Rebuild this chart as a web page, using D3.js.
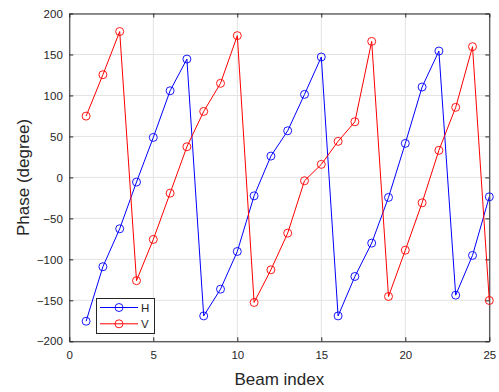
<!DOCTYPE html>
<html><head><meta charset="utf-8">
<script src="https://cdn.jsdelivr.net/npm/d3@7/dist/d3.min.js"></script>
<style>body{margin:0;background:#fff}svg{display:block}text{font-family:"Liberation Sans",Arial,sans-serif}</style>
</head><body>
<script>
const beamIndex = d3.range(1, 26);
const phaseH = [-175.5,-109,-62.7,-5.7,48.8,105.7,144.4,-169,-136.4,-90.4,-22.5,26,56.9,101.3,146.9,-169,-120.9,-80.2,-24.4,41.5,110.3,154.2,-143.7,-95.2,-23.7];
const phaseV = [74.8,125.3,178,-126,-75.7,-19.2,37.4,80.5,114.8,173,-152.6,-112.8,-68,-4.1,15.9,44,67.9,166,-145.3,-88.8,-31,33,85.5,159.5,-150.2];
const xTicks = [0,5,10,15,20,25];
const yTicks = [-200,-150,-100,-50,0,50,100,150,200];
const seriesNames = ["H","V"];
const colors = ["#0000ff","#ff0000"];

const W=499,H=392, L=69.3, R=489.3, T=13.5, B=341.3;
const svg=d3.select("body").append("svg").attr("width",W).attr("height",H);
const x=d3.scaleLinear().domain([0,25]).range([L,R]);
const y=d3.scaleLinear().domain([-200,200]).range([B,T]);

// grid
svg.append("g").selectAll("line").data(xTicks).join("line")
 .attr("x1",d=>x(d)).attr("x2",d=>x(d)).attr("y1",T).attr("y2",B)
 .attr("stroke","#e3e3e3").attr("stroke-width",1);
svg.append("g").selectAll("line").data(yTicks).join("line")
 .attr("y1",d=>y(d)).attr("y2",d=>y(d)).attr("x1",L).attr("x2",R)
 .attr("stroke","#e3e3e3").attr("stroke-width",1);

const axCol="#262626";
function styleAxis(g){g.select(".domain").attr("stroke",axCol);g.selectAll(".tick line").attr("stroke",axCol);g.selectAll("text").attr("fill","#262626").style("font-size","11.5px");}
svg.append("g").attr("transform",`translate(0,${B})`).call(d3.axisBottom(x).tickValues(xTicks).tickSizeInner(-4).tickSizeOuter(0).tickPadding(10)).call(styleAxis);
svg.append("g").attr("transform",`translate(${L},0)`).call(d3.axisLeft(y).tickValues(yTicks).tickSizeInner(-4).tickSizeOuter(0).tickPadding(6.5)).call(styleAxis);
svg.append("g").attr("transform",`translate(0,${T})`).call(d3.axisTop(x).tickValues(xTicks).tickSizeInner(-4).tickSizeOuter(0).tickFormat("")).call(styleAxis);
svg.append("g").attr("transform",`translate(${R},0)`).call(d3.axisRight(y).tickValues(yTicks).tickSizeInner(-4).tickSizeOuter(0).tickFormat("")).call(styleAxis);

const series=[phaseH,phaseV];
const line=d3.line().x((d,i)=>x(beamIndex[i])).y(d=>y(d));
series.forEach((s,k)=>{
  svg.append("path").datum(s).attr("d",line).attr("fill","none").attr("stroke",colors[k]).attr("stroke-width",1);
  svg.append("g").selectAll("circle").data(s).join("circle")
   .attr("cx",(d,i)=>x(beamIndex[i])).attr("cy",d=>y(d)).attr("r",4)
   .attr("fill","none").attr("stroke",colors[k]).attr("stroke-width",0.9);
});

// labels
svg.append("text").attr("x",(L+R)/2).attr("y",385).attr("text-anchor","middle").style("font-size","17px").attr("fill","#262626").text("Beam index");
svg.append("text").attr("transform",`translate(29,${(T+B)/2}) rotate(-90)`).attr("text-anchor","middle").style("font-size","17px").attr("fill","#262626").text("Phase (degree)");

// legend
const lg=svg.append("g");
lg.append("rect").attr("x",96.5).attr("y",298.5).attr("width",58).attr("height",35).attr("fill","#fff").attr("stroke",axCol).attr("stroke-width",1);
seriesNames.forEach((n,k)=>{
  const yy=307.5+k*16.3;
  lg.append("line").attr("x1",100).attr("x2",138).attr("y1",yy).attr("y2",yy).attr("stroke",colors[k]).attr("stroke-width",1);
  lg.append("circle").attr("cx",119).attr("cy",yy).attr("r",4).attr("fill","none").attr("stroke",colors[k]).attr("stroke-width",0.9);
  lg.append("text").attr("x",141).attr("y",yy+4).style("font-size","11.5px").attr("fill","#262626").text(n);
});
</script>
</body></html>
